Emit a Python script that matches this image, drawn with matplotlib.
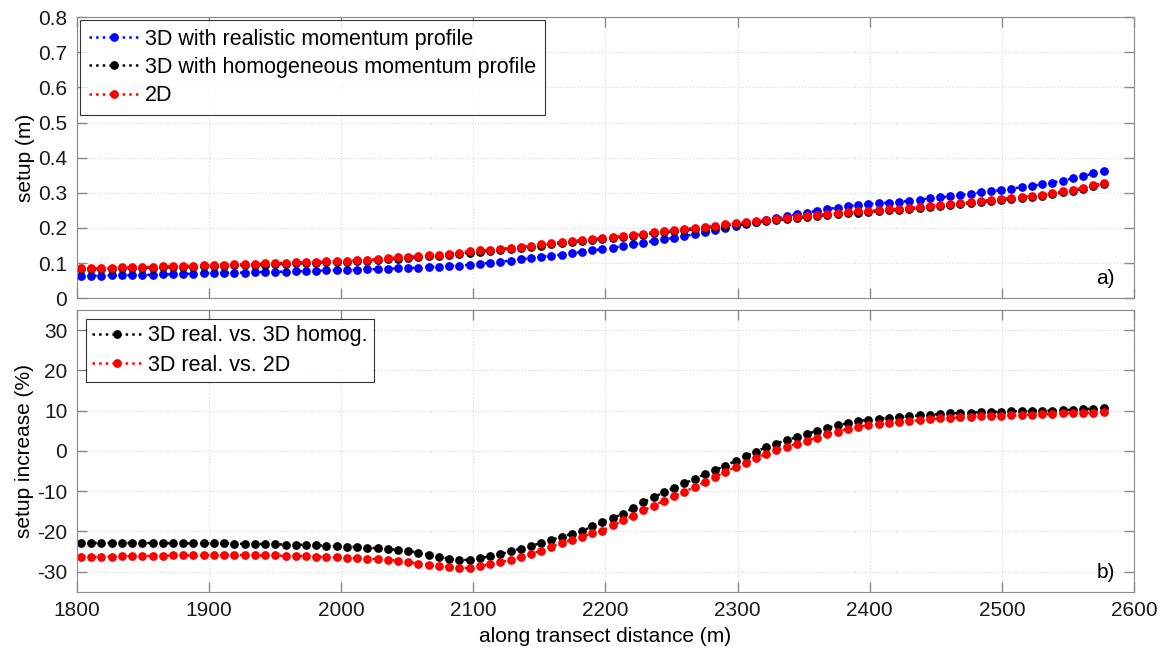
import numpy as np
import matplotlib
matplotlib.use('Agg')
import matplotlib.pyplot as plt

plt.rcParams['font.family'] = ['Liberation Sans', 'DejaVu Sans']
plt.rcParams['axes.unicode_minus'] = False

# along transect distance (m)
dist = [1803.0, 1810.7, 1818.5, 1826.2, 1834.0, 1841.7, 1849.4, 1857.2, 1864.9, 1872.7,
        1880.4, 1888.1, 1895.9, 1903.6, 1911.4, 1919.1, 1926.8, 1934.6, 1942.3, 1950.1,
        1957.8, 1965.5, 1973.3, 1981.0, 1988.8, 1996.5, 2004.2, 2012.0, 2019.7, 2027.5,
        2035.2, 2042.9, 2050.7, 2058.4, 2066.2, 2073.9, 2081.6, 2089.4, 2097.1, 2104.9,
        2112.6, 2120.3, 2128.1, 2135.8, 2143.6, 2151.3, 2159.0, 2166.8, 2174.5, 2182.3,
        2190.0, 2197.7, 2205.5, 2213.2, 2221.0, 2228.7, 2236.4, 2244.2, 2251.9, 2259.7,
        2267.4, 2275.1, 2282.9, 2290.6, 2298.4, 2306.1, 2313.8, 2321.6, 2329.3, 2337.1,
        2344.8, 2352.5, 2360.3, 2368.0, 2375.8, 2383.5, 2391.2, 2399.0, 2406.7, 2414.5,
        2422.2, 2429.9, 2437.7, 2445.4, 2453.2, 2460.9, 2468.6, 2476.4, 2484.1, 2491.9,
        2499.6, 2507.3, 2515.1, 2522.8, 2530.6, 2538.3, 2546.0, 2553.8, 2561.5, 2569.3,
        2577.0]

# setup (m)
setup_3d_real = [0.063, 0.064, 0.064, 0.065, 0.065, 0.066, 0.066, 0.067, 0.068, 0.068,
                 0.069, 0.070, 0.071, 0.072, 0.072, 0.073, 0.073, 0.074, 0.075, 0.075,
                 0.076, 0.077, 0.077, 0.078, 0.079, 0.080, 0.080, 0.081, 0.082, 0.083,
                 0.084, 0.085, 0.086, 0.087, 0.089, 0.090, 0.092, 0.093, 0.095, 0.098,
                 0.101, 0.104, 0.107, 0.111, 0.114, 0.118, 0.121, 0.124, 0.128, 0.132,
                 0.136, 0.140, 0.144, 0.148, 0.153, 0.158, 0.163, 0.168, 0.172, 0.177,
                 0.182, 0.188, 0.193, 0.199, 0.205, 0.211, 0.216, 0.222, 0.227, 0.233,
                 0.239, 0.244, 0.249, 0.254, 0.258, 0.262, 0.265, 0.268, 0.270, 0.272,
                 0.274, 0.277, 0.281, 0.284, 0.287, 0.290, 0.294, 0.297, 0.301, 0.304,
                 0.308, 0.312, 0.316, 0.320, 0.324, 0.329, 0.335, 0.341, 0.348, 0.355,
                 0.362]
setup_3d_homog = [0.082, 0.083, 0.084, 0.084, 0.085, 0.086, 0.086, 0.087, 0.088, 0.088,
                  0.089, 0.090, 0.091, 0.092, 0.093, 0.094, 0.094, 0.095, 0.096, 0.097,
                  0.098, 0.099, 0.100, 0.101, 0.102, 0.103, 0.104, 0.106, 0.107, 0.109,
                  0.111, 0.113, 0.115, 0.117, 0.119, 0.121, 0.124, 0.127, 0.130, 0.133,
                  0.135, 0.138, 0.141, 0.144, 0.147, 0.150, 0.154, 0.157, 0.160, 0.163,
                  0.166, 0.169, 0.172, 0.175, 0.178, 0.181, 0.185, 0.188, 0.190, 0.194,
                  0.197, 0.200, 0.204, 0.207, 0.210, 0.213, 0.216, 0.219, 0.222, 0.225,
                  0.228, 0.231, 0.234, 0.237, 0.239, 0.242, 0.244, 0.246, 0.248, 0.250,
                  0.252, 0.254, 0.257, 0.260, 0.263, 0.265, 0.268, 0.271, 0.274, 0.277,
                  0.280, 0.283, 0.286, 0.289, 0.292, 0.296, 0.301, 0.306, 0.311, 0.318,
                  0.325]
setup_2d = [0.085, 0.086, 0.087, 0.087, 0.088, 0.089, 0.089, 0.090, 0.091, 0.091,
            0.092, 0.093, 0.094, 0.095, 0.096, 0.097, 0.097, 0.098, 0.099, 0.100,
            0.101, 0.102, 0.103, 0.104, 0.105, 0.106, 0.107, 0.109, 0.110, 0.112,
            0.114, 0.116, 0.118, 0.120, 0.122, 0.124, 0.127, 0.130, 0.134, 0.136,
            0.138, 0.141, 0.144, 0.147, 0.150, 0.153, 0.157, 0.160, 0.163, 0.166,
            0.169, 0.172, 0.175, 0.178, 0.181, 0.184, 0.188, 0.191, 0.193, 0.197,
            0.200, 0.203, 0.207, 0.210, 0.213, 0.216, 0.219, 0.222, 0.225, 0.228,
            0.231, 0.234, 0.237, 0.240, 0.242, 0.245, 0.247, 0.249, 0.251, 0.253,
            0.255, 0.257, 0.260, 0.263, 0.266, 0.268, 0.271, 0.274, 0.277, 0.280,
            0.283, 0.286, 0.289, 0.292, 0.295, 0.299, 0.304, 0.309, 0.314, 0.321,
            0.328]

# setup increase (%)
incr_vs_homog = [-22.9, -22.9, -22.9, -22.9, -22.9, -22.9, -22.9, -22.9, -22.9, -23.0,
                 -23.0, -23.0, -23.0, -23.0, -23.0, -23.1, -23.1, -23.1, -23.2, -23.2,
                 -23.3, -23.3, -23.4, -23.5, -23.6, -23.7, -23.8, -23.9, -24.1, -24.2,
                 -24.4, -24.6, -24.9, -25.3, -25.8, -26.3, -26.8, -27.1, -27.1, -26.7,
                 -26.2, -25.7, -25.0, -24.3, -23.6, -22.9, -22.1, -21.4, -20.6, -19.9,
                 -18.8, -17.8, -16.7, -15.6, -14.2, -12.7, -11.5, -10.3, -9.2, -8.1,
                 -7.0, -5.8, -4.8, -3.7, -2.5, -1.3, -0.2, 0.9, 1.8, 2.7,
                 3.4, 4.2, 5.0, 5.7, 6.3, 6.9, 7.4, 7.7, 8.0, 8.2,
                 8.4, 8.6, 8.8, 9.0, 9.1, 9.3, 9.4, 9.5, 9.6, 9.7,
                 9.7, 9.8, 9.8, 9.9, 9.9, 10.0, 10.1, 10.2, 10.3, 10.5,
                 10.7]
incr_vs_2d = [-26.4, -26.4, -26.3, -26.3, -26.2, -26.2, -26.1, -26.1, -26.1, -26.0,
              -26.0, -26.0, -25.9, -25.9, -25.9, -25.9, -25.9, -26.0, -26.0, -26.0,
              -26.1, -26.1, -26.2, -26.3, -26.4, -26.5, -26.6, -26.7, -26.8, -26.9,
              -27.1, -27.3, -27.6, -28.0, -28.4, -28.7, -28.9, -29.1, -29.1, -28.7,
              -28.2, -27.7, -27.1, -26.4, -25.6, -24.8, -23.8, -22.9, -22.1, -21.3,
              -20.5, -19.8, -18.5, -17.3, -16.1, -14.8, -13.6, -12.4, -11.2, -10.2,
              -9.0, -7.7, -6.5, -5.2, -4.1, -3.0, -1.8, -0.7, 0.2, 1.0,
              1.8, 2.5, 3.3, 4.1, 4.8, 5.5, 6.0, 6.4, 6.6, 6.8,
              7.1, 7.4, 7.6, 7.8, 8.1, 8.2, 8.3, 8.5, 8.6, 8.6,
              8.7, 8.8, 8.9, 9.0, 9.1, 9.2, 9.3, 9.3, 9.4, 9.5,
              9.7]

FS = 15
LEG_FS = 15.5
SPINE = '#8a8a8a'


def style_axes(ax):
    for s in ax.spines.values():
        s.set_color(SPINE)
    ax.tick_params(direction='in', length=7, width=1, colors=SPINE,
                   labelcolor='#1a1a1a', labelsize=FS,
                   top=True, right=True, pad=7)
    ax.grid(True, linestyle=':', color='#dadada', linewidth=0.8)
    ax.set_axisbelow(True)


def dotted(ax, y, color, label):
    ax.plot(dist, y, linestyle=':', color=color, linewidth=1.8,
            marker='o', markersize=6.3, markeredgewidth=0, label=label)


fig = plt.figure(figsize=(11.67, 6.47), dpi=100)
ax1 = fig.add_axes([0.066, 0.539, 0.9057, 0.4346])
ax2 = fig.add_axes([0.066, 0.0855, 0.9057, 0.4354], sharex=ax1)

dotted(ax1, setup_3d_real, 'blue', '3D with realistic momentum profile')
dotted(ax1, setup_3d_homog, 'black', '3D with homogeneous momentum profile')
dotted(ax1, setup_2d, 'red', '2D')
ax1.set_xlim(1800, 2600)
ax1.set_ylim(0, 0.8)
ax1.set_yticks(np.arange(0, 0.81, 0.1))
ax1.set_yticklabels(['0', '0.1', '0.2', '0.3', '0.4', '0.5', '0.6', '0.7', '0.8'])
ax1.set_ylabel('setup (m)', fontsize=FS, labelpad=2)
style_axes(ax1)
ax1.tick_params(labelbottom=False)
ax1.text(0.982, 0.035, 'a)', transform=ax1.transAxes, ha='right', va='bottom', fontsize=FS)
leg1 = ax1.legend(loc='upper left', fontsize=LEG_FS, frameon=True, fancybox=False,
                  edgecolor='black', borderaxespad=0.15, handlelength=2.3,
                  handletextpad=0.3, borderpad=0.4, labelspacing=0.33)
leg1.get_frame().set_linewidth(0.8)

dotted(ax2, incr_vs_homog, 'black', '3D real. vs. 3D homog.')
dotted(ax2, incr_vs_2d, 'red', '3D real. vs. 2D')
ax2.set_ylim(-35, 35)
ax2.set_yticks([-30, -20, -10, 0, 10, 20, 30])
ax2.set_xticks(np.arange(1800, 2601, 100))
ax2.set_ylabel('setup increase (%)', fontsize=FS, labelpad=2)
ax2.set_xlabel('along transect distance (m)', fontsize=FS, labelpad=5)
style_axes(ax2)
ax2.text(0.982, 0.035, 'b)', transform=ax2.transAxes, ha='right', va='bottom', fontsize=FS)
leg2 = ax2.legend(loc='upper left', fontsize=LEG_FS, frameon=True, fancybox=False,
                  edgecolor='black', borderaxespad=0.4, handlelength=2.3,
                  handletextpad=0.3, borderpad=0.3, labelspacing=0.4)
leg2.get_frame().set_linewidth(0.8)

fig.savefig('out.png', dpi=100)
